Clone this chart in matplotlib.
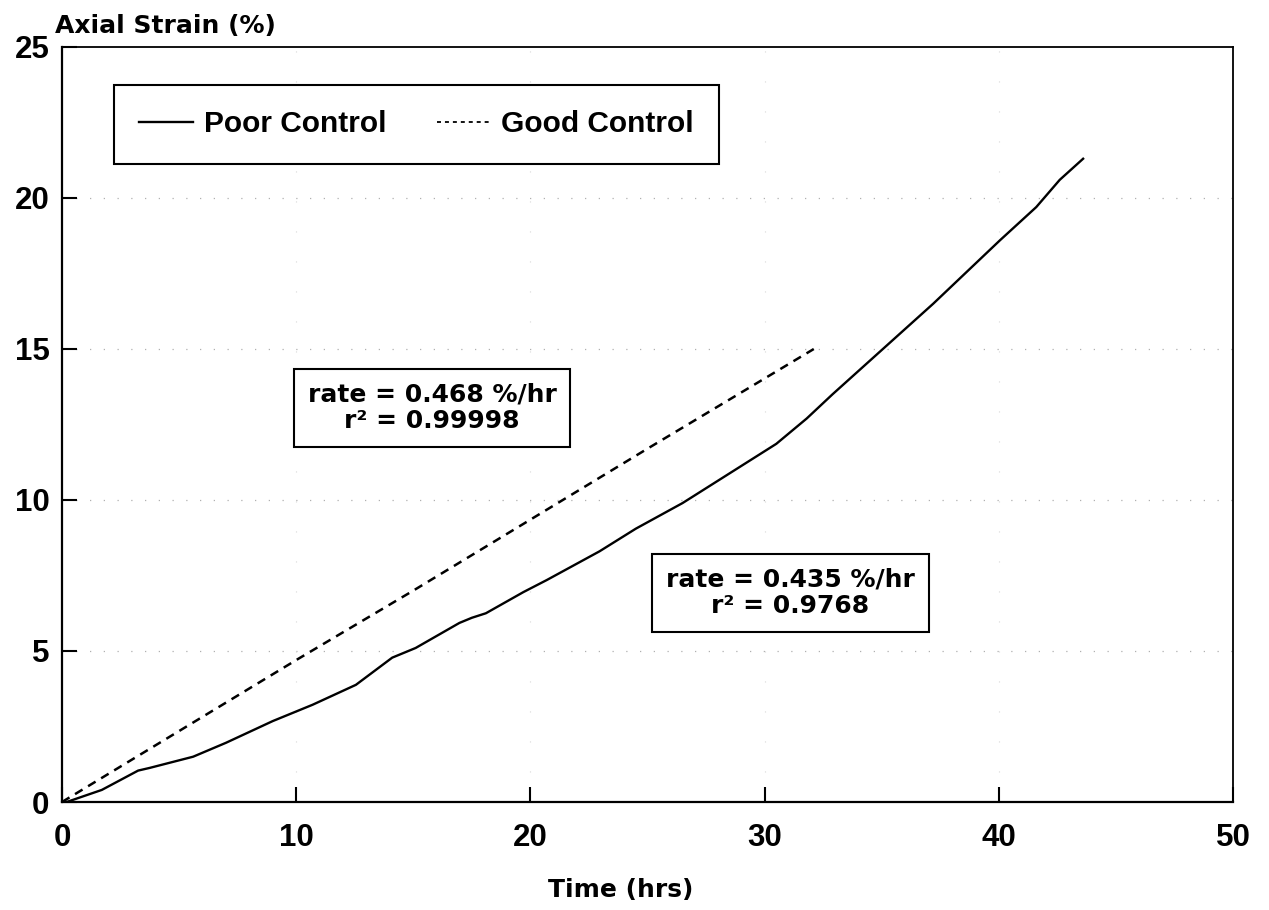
import matplotlib
matplotlib.use("Agg")
import matplotlib.pyplot as plt

# strain vs time, creep test with two control qualities
poor_time = [0, 0.2, 1.7, 3.25, 3.75, 5.6, 7.0, 9.0, 10.7, 12.55, 14.1, 15.1, 16.97, 17.5,
             18.1, 19.7, 20.7, 22.95, 24.5, 26.5, 30.5, 31.8, 32.9, 35.05, 37.2, 40.05,
             41.6, 42.6, 43.6]
poor_strain = [0, 0, 0.4, 1.04, 1.13, 1.5, 1.96, 2.68, 3.22, 3.88, 4.78, 5.1, 5.93, 6.1,
               6.25, 6.95, 7.35, 8.3, 9.05, 9.9, 11.86, 12.7, 13.5, 15.0, 16.5, 18.6,
               19.7, 20.6, 21.3]

good_time = [0, 5, 10, 15, 20, 25, 32.1]
good_strain = [0, 2.35, 4.7, 7.0, 9.35, 11.7, 15.0]

x_ticks = [0, 10, 20, 30, 40, 50]
y_ticks = [0, 5, 10, 15, 20, 25]

poor_fit = ("0.435 %/hr", "0.9768")
good_fit = ("0.468 %/hr", "0.99998")

tick_font = "Liberation Sans"
text_font = "DejaVu Sans"

fig = plt.figure(figsize=(12.69, 9.10), dpi=100)
ax = fig.add_axes([62 / 1269, 1 - 802 / 910, (1233 - 62) / 1269, (802 - 47) / 910])

ax.plot(poor_time, poor_strain, color="black", lw=1.7, label="Poor Control")
ax.plot(good_time, good_strain, color="black", lw=1.8, dashes=(3.5, 2.6), label="Good Control")

ax.set_xlim(0, 50)
ax.set_ylim(0, 25)
ax.set_xticks(x_ticks)
ax.set_yticks(y_ticks)

# sparse dotted grid at interior ticks
for yv in y_ticks[1:-1]:
    ax.axhline(yv, color="#b0b0b0", lw=0.9, linestyle=(0, (1, 10)), zorder=0)
for xv in x_ticks[1:-1]:
    ax.axvline(xv, color="#d8d8d8", lw=0.8, linestyle=(0, (1, 26)), zorder=0)

for sp in ax.spines.values():
    sp.set_linewidth(1.6)
ax.spines["top"].set_linewidth(1.3)
ax.spines["right"].set_linewidth(1.3)

ax.tick_params(direction="in", length=11, width=1.5, top=False, right=False)
ax.tick_params(axis="x", pad=15)
ax.tick_params(axis="y", pad=9)
for lab in ax.get_xticklabels() + ax.get_yticklabels():
    lab.set_fontfamily(tick_font)
    lab.set_fontweight("bold")
    lab.set_fontsize(22.5)

fig.text(55 / 1269, 1 - 33 / 910, "Axial Strain (%)", family=text_font, weight="bold",
         fontsize=18, ha="left", va="baseline")
fig.text(621 / 1269, 1 - 897 / 910, "Time (hrs)", family=text_font, weight="bold",
         fontsize=18, ha="center", va="baseline")

leg = ax.legend(loc="upper left", bbox_to_anchor=((114 - 62) / 1171, (802 - 85) / 755),
                borderaxespad=0, ncol=2, frameon=True, fancybox=False, framealpha=1,
                edgecolor="black", handlelength=1.8, handletextpad=0.35, columnspacing=1.7,
                borderpad=0.85, prop={"family": tick_font, "weight": "bold", "size": 21.5})
leg.get_frame().set_linewidth(1.5)
leg.get_lines()[1].set_dashes((2.2, 2.2))
leg.get_lines()[1].set_linewidth(1.3)

box = dict(boxstyle="square,pad=0.55", facecolor="white", edgecolor="black", lw=1.5)
ax.text(15.8, 13.05, "rate = %s\nr\u00b2 = %s" % good_fit, family=text_font, weight="bold",
        fontsize=18, ha="center", va="center", multialignment="center", bbox=box,
        linespacing=1.15)
ax.text(31.1, 6.92, "rate = %s\nr\u00b2 = %s" % poor_fit, family=text_font, weight="bold",
        fontsize=18, ha="center", va="center", multialignment="center", bbox=box,
        linespacing=1.15)

fig.savefig("out.png", dpi=100)
